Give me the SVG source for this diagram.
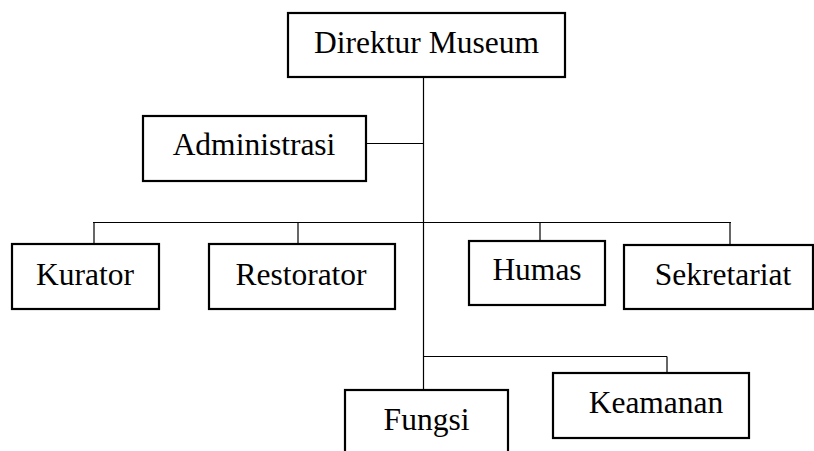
<svg xmlns="http://www.w3.org/2000/svg" width="814" height="451" viewBox="0 0 814 451">
<style>
.box{fill:#fff;stroke:#000;stroke-width:2.2}
.lbl{font-family:"Liberation Serif","Times New Roman",serif;font-size:31.5px;fill:#000;text-anchor:middle}
.ln{stroke:#000;stroke-width:1.2;fill:none}
</style>
<rect width="814" height="451" fill="#fff"/>
<g id="connectors">
<line class="ln" x1="423.5" y1="77" x2="423.5" y2="396"/>
<line class="ln" x1="366" y1="143.5" x2="424" y2="143.5"/>
<line class="ln" x1="93" y1="222.5" x2="731" y2="222.5"/>
<line class="ln" x1="94" y1="222.5" x2="94" y2="244"/>
<line class="ln" x1="298" y1="222.5" x2="298" y2="244"/>
<line class="ln" x1="540" y1="222.5" x2="540" y2="241"/>
<line class="ln" x1="730" y1="222.5" x2="730" y2="245"/>
<line class="ln" x1="424" y1="356.5" x2="667" y2="356.5"/>
<line class="ln" x1="667" y1="356.5" x2="667" y2="373"/>
</g>
<g id="direktur">
<rect class="box" x="288" y="13" width="277" height="64"/>
<text class="lbl" x="426.5" y="53">Direktur Museum</text>
</g>
<g id="administrasi">
<rect class="box" x="143" y="116" width="223" height="65"/>
<text class="lbl" x="254" y="155">Administrasi</text>
</g>
<g id="kurator">
<rect class="box" x="12" y="244" width="147" height="65"/>
<text class="lbl" x="85" y="285">Kurator</text>
</g>
<g id="restorator">
<rect class="box" x="209" y="244" width="186" height="65"/>
<text class="lbl" x="301" y="285">Restorator</text>
</g>
<g id="humas">
<rect class="box" x="469" y="241" width="136" height="64"/>
<text class="lbl" x="537" y="280">Humas</text>
</g>
<g id="sekretariat">
<rect class="box" x="624" y="245" width="189" height="64"/>
<text class="lbl" x="723" y="285">Sekretariat</text>
</g>
<g id="fungsi">
<rect class="box" x="345" y="390" width="163" height="70"/>
<text class="lbl" x="426.5" y="430">Fungsi</text>
</g>
<g id="keamanan">
<rect class="box" x="553" y="373" width="196" height="65"/>
<text class="lbl" x="656" y="413">Keamanan</text>
</g>
</svg>
